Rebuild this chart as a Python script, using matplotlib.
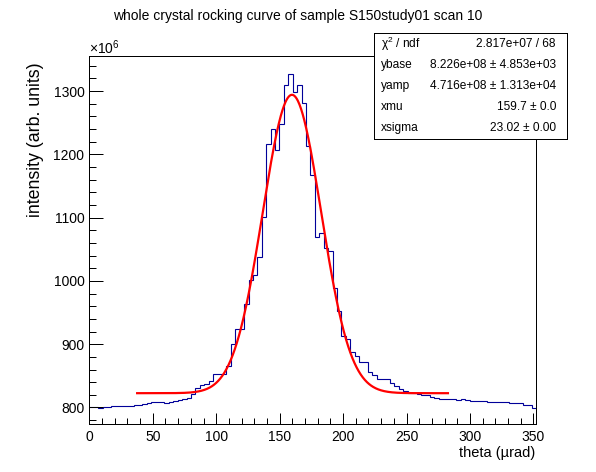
import numpy as np
import matplotlib

matplotlib.use("Agg")
import matplotlib.pyplot as plt
from matplotlib.ticker import MultipleLocator

plt.rcParams["font.family"] = ["Liberation Sans", "DejaVu Sans"]
plt.rcParams["mathtext.fontset"] = "custom"
plt.rcParams["mathtext.rm"] = "Liberation Sans"
plt.rcParams["mathtext.it"] = "Liberation Sans:italic"
plt.rcParams["mathtext.bf"] = "Liberation Sans:bold"
plt.rcParams["mathtext.default"] = "regular"

# histogram: 101 bins over 0..352 urad, counts in units of 1e6
theta_lo, theta_hi, n_bins = 0.0, 352.0, 101
counts = [
    800.3, 800.3, 798.7, 800.3, 800.3, 801.8, 801.8, 801.8, 801.8, 801.8,
    803.4, 803.4, 805.0, 806.6, 808.2, 808.2, 808.2, 806.6, 808.2, 809.8,
    811.3, 813.4, 815.5, 822.0, 831.3, 835.0, 837.0, 841.8, 852.4, 852.4,
    852.4, 865.6, 900.4, 924.1, 924.1, 963.2, 1001.6, 1009.5, 1037.5, 1100.7,
    1216.2, 1239.9, 1206.7, 1247.8, 1310.0, 1326.9, 1298.4, 1310.0, 1282.0, 1213.0,
    1167.6, 1070.0, 1076.0, 1051.7, 1047.5, 988.5, 953.1, 912.5, 908.0, 887.5,
    881.4, 871.5, 871.5, 855.7, 851.4, 844.6, 844.6, 844.6, 838.3, 834.0,
    829.3, 826.6, 823.4, 823.4, 821.3, 819.3, 819.3, 817.1, 815.5, 813.9,
    812.9, 812.9, 812.9, 811.3, 812.9, 811.3, 809.8, 809.8, 809.8, 809.8,
    808.2, 808.2, 808.2, 808.2, 808.2, 806.6, 806.6, 806.6, 804.0, 804.0,
    798.7,
]

# gaussian fit parameters (from the stats box), y in units of 1e6
ybase = 822.6
yamp = 471.6
xmu = 159.7
xsigma = 23.02
fit_lo, fit_hi = 37.7, 282.6

stat_names = ["χ$^{2}$ / ndf", "ybase", "yamp", "xmu", "xsigma"]
stat_values = ["2.817e+07 / 68", "8.226e+08 ± 4.853e+03", "4.716e+08 ± 1.313e+04",
               "159.7 ± 0.0", "23.02 ± 0.00"]

W, H = 596, 472


def fx(px):
    return px / W


def fy(py):
    return 1 - py / H


fig = plt.figure(figsize=(W / 100, H / 100), dpi=100)
fig.patch.set_facecolor("white")

# frame in pixels: x 89.3..536, y 55.7..424
ax = fig.add_axes([fx(89.3), fy(424), fx(536) - fx(89.3), fy(55.7) - fy(424)])

edges = np.linspace(theta_lo, theta_hi, n_bins + 1)
ax.stairs(counts, edges, baseline=None, color="#000099", lw=0.8)

xf = np.linspace(fit_lo, fit_hi, 600)
yf = ybase + yamp * np.exp(-0.5 * ((xf - xmu) / xsigma) ** 2)
ax.plot(xf, yf, color="#ff0000", lw=1.6, zorder=3)

ax.set_xlim(0, 352)
ax.set_ylim(773.9, 1356)
ax.xaxis.set_major_locator(MultipleLocator(50))
ax.xaxis.set_minor_locator(MultipleLocator(10))
ax.yaxis.set_major_locator(MultipleLocator(100))
ax.yaxis.set_minor_locator(MultipleLocator(20))
ax.tick_params(axis="both", which="both", direction="in", width=0.72,
               top=False, right=False, labelsize=10)
ax.tick_params(axis="x", which="major", length=8, pad=4.5)
ax.tick_params(axis="x", which="minor", length=4)
ax.tick_params(axis="y", which="major", length=10, pad=3.5)
ax.tick_params(axis="y", which="minor", length=5)
for s in ax.spines.values():
    s.set_linewidth(0.72)

fig.text(fx(298), fy(16), "whole crystal rocking curve of sample S150study01 scan 10",
         ha="center", va="center", fontsize=10)
fig.text(fx(535), fy(453), "theta (µrad)", ha="right", va="center", fontsize=10.5)
fig.text(fx(36), fy(62), "intensity (arb. units)", ha="center", va="top",
         rotation=90, fontsize=12.8)
fig.text(fx(89), fy(54), r"$\times10^{6}$", ha="left", va="baseline", fontsize=10)

# stats box
bx0, bx1, by0, by1 = 373.5, 566.7, 33.3, 139.0
box = fig.add_axes([fx(bx0), fy(by1), fx(bx1) - fx(bx0), fy(by0) - fy(by1)])
box.set_xticks([])
box.set_yticks([])
box.set_facecolor("white")
for s in box.spines.values():
    s.set_linewidth(0.72)
row_h = (by1 - by0) / len(stat_names)
for i, (name, val) in enumerate(zip(stat_names, stat_values)):
    yc = by0 + row_h * (i + 0.5)
    fig.text(fx(381), fy(yc), name, ha="left", va="center", fontsize=8.6)
    fig.text(fx(556), fy(yc), val, ha="right", va="center", fontsize=8.6)

fig.savefig("out.png", dpi=100)
